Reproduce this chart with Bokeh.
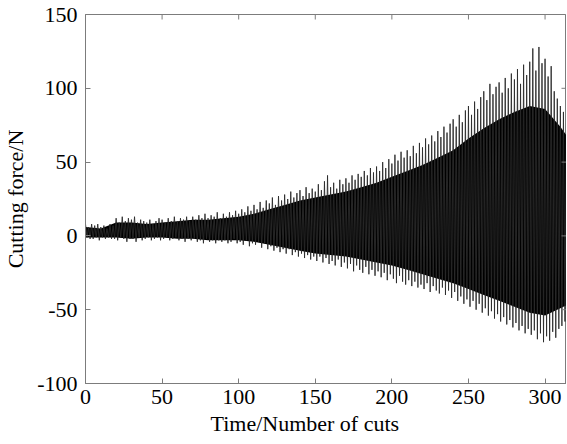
import math
from bokeh.plotting import figure
from bokeh.models import Range1d, FixedTicker, Title
from bokeh.embed import file_html
from bokeh.resources import INLINE

# ---- data ----
# peak (upper) values of the cutting force at t = 0, 2, 4, ... (number of cuts)
peak_t = list(range(0, 315, 2))
peak_force = [
    8, 6, 8, 7, 8,        6, 7, 5, 8, 7,
    12, 9, 13, 10, 12,    11, 13, 9, 11, 10,
    9, 11, 8, 10, 12,     11, 9, 12, 10, 13,
    10, 12, 11, 13, 10,   13, 11, 14, 12, 15,
    12, 14, 13, 16, 12,   15, 13, 16, 14, 17,
    15, 18, 16, 20, 17,   21, 18, 23, 19, 24,
    22, 26, 21, 27, 24,   28, 25, 30, 26, 29,
    31, 27, 33, 29, 32,   30, 35, 31, 37, 41,
    33, 36, 32, 38, 35,   39, 36, 41, 38, 42,
    40, 44, 41, 46, 43,   47, 44, 50, 46, 52,
    49, 55, 51, 57, 53,   58, 54, 61, 56, 63,
    60, 66, 62, 68, 64,   71, 67, 74, 70, 76,
    79, 74, 82, 77, 85,   88, 82, 91, 86, 94,
    98, 92, 103, 96, 101, 104, 97, 107, 100, 110,
    106, 113, 103, 116, 109, 118, 127, 112, 128, 117,
    120, 108, 115, 98, 93,  88, 84, 80,
]
# trough (lower) values at t = 1, 3, 5, ...
trough_t = list(range(1, 316, 2))
trough_force = [
    -1, -2, -2, -1, -3,     -1, -2, -1, -2, -2,
    -3, -1, -2, -4, -2,     -2, -4, -1, -3, -2,
    -1, -3, -2, -1, -3,     -2, -1, -3, -2, -1,
    -3, -2, -4, -2, -3,     -2, -4, -3, -5, -2,
    -4, -3, -5, -3, -4,     -3, -5, -4, -2, -5,
    -4, -6, -3, -7, -5,     -6, -4, -8, -5, -9,
    -7, -10, -8, -11, -9,   -12, -9, -13, -11, -14,
    -12, -15, -13, -16, -14, -17, -14, -18, -15, -19,
    -17, -20, -16, -21, -18, -22, -19, -24, -20, -23,
    -25, -21, -26, -23, -27, -24, -28, -25, -30, -26,
    -29, -32, -27, -31, -33, -30, -34, -31, -35, -33,
    -36, -32, -38, -34, -37, -39, -35, -40, -37, -42,
    -38, -44, -41, -46, -43, -48, -44, -50, -46, -52,
    -49, -54, -51, -56, -53, -58, -55, -60, -57, -62,
    -59, -64, -61, -66, -63, -67, -64, -70, -66, -72,
    -68, -71, -65, -69, -63, -61, -58, -60,
]
# dense solid core of the signal (every 10 cuts)
core_t = [0, 10, 20, 30, 40, 50, 60, 70, 80, 90, 100, 110, 120, 130, 140, 150,
          160, 170, 180, 190, 200, 210, 220, 230, 240, 250, 260, 270, 280, 290, 300, 310, 314]
core_top = [6, 5, 9, 9, 8, 9, 10, 11, 11, 12, 13, 15, 18, 21, 24, 26,
            28, 30, 33, 36, 40, 44, 48, 53, 58, 66, 73, 79, 84, 88, 86, 74, 68]
core_bottom = [-1, -1, -1, -2, -1, -1, -2, -2, -3, -3, -3, -4, -6, -8, -10, -12,
               -13, -14, -16, -18, -20, -23, -26, -29, -32, -36, -40, -44, -48, -52, -54, -49, -47]

x_ticks = [0, 50, 100, 150, 200, 250, 300]
y_ticks = [-100, -50, 0, 50, 100, 150]
y_tick_labels = ["-100", "-50", "0", "50", "100", "150"]
x_lo, x_hi = 0, 314
y_lo, y_hi = -100, 150

# interleave peaks and troughs into one oscillating trace
sig_t, sig_f = [], []
for i in range(len(peak_t)):
    sig_t.append(peak_t[i]); sig_f.append(peak_force[i])
    sig_t.append(trough_t[i]); sig_f.append(trough_force[i])

FONT = "Liberation Serif"
GRAY = "#7c7c7c"

p = figure(width=566, height=443, output_backend="svg", toolbar_location=None,
           x_range=Range1d(x_lo, x_hi), y_range=Range1d(y_lo, y_hi),
           min_border_left=85, min_border_right=0, min_border_top=14, min_border_bottom=60)
p.grid.visible = False
p.background_fill_color = "white"
p.border_fill_color = "white"
p.outline_line_color = GRAY
p.outline_line_width = 1

p.varea(x=core_t, y1=core_bottom, y2=core_top, fill_color="black")
p.line(sig_t, sig_f, line_color="#2a2a2a", line_width=0.9)

for ax in (p.xaxis[0], p.yaxis[0]):
    ax.axis_line_color = GRAY
    ax.major_tick_line_color = GRAY
    ax.major_tick_in = 5
    ax.major_tick_out = 0
    ax.minor_tick_line_color = None
    ax.major_label_text_font = FONT
    ax.major_label_text_font_size = "22px"
    ax.major_label_text_color = "black"
    ax.axis_label_text_font = FONT
    ax.axis_label_text_font_size = "22px"
    ax.axis_label_text_font_style = "normal"
    ax.axis_label_text_color = "black"

p.xaxis.ticker = FixedTicker(ticks=x_ticks)
p.yaxis.ticker = FixedTicker(ticks=y_ticks)
p.yaxis.major_label_overrides = dict(zip(y_ticks, y_tick_labels))
p.xaxis.major_label_standoff = 6
p.yaxis.major_label_standoff = 8
p.yaxis.axis_label = "Cutting force/N"
p.yaxis.axis_label_standoff = 6

# mirrored inward ticks on the top and right edges of the box
p.ray(x=x_ticks, y=[y_hi] * len(x_ticks), length=5, length_units="screen",
      angle=-math.pi / 2, line_color=GRAY, line_width=1)
p.ray(x=[x_hi] * len(y_ticks), y=y_ticks, length=5, length_units="screen",
      angle=math.pi, line_color=GRAY, line_width=1)

# x-axis title (slightly left of centre, as in the reference)
p.add_layout(Title(text="Time/Number of cuts", text_font=FONT, text_font_size="22px",
                   text_font_style="normal", text_color="black", align="left",
                   offset=125, standoff=4), "below")

open("out.html", "w").write(file_html(p, INLINE))
